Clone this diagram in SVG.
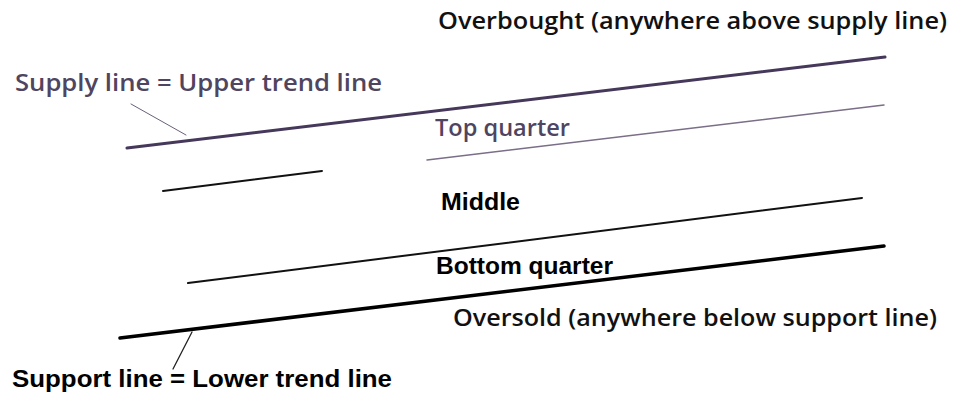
<svg xmlns="http://www.w3.org/2000/svg" width="953" height="394" viewBox="0 0 953 394">
<style>
text{font-family:"Liberation Sans",Arial,sans-serif;font-size:24px}
.p{fill:#4f4560;font-family:"Open Sans","Liberation Sans",sans-serif;font-weight:600}
.b{fill:#000;font-weight:bold}
.n{fill:#111;font-family:"Open Sans","Liberation Sans",sans-serif;font-weight:600;font-size:23px}
line{stroke-linecap:round}
</style>
<rect width="953" height="394" fill="#fff"/>
<g id="connectors">
<line x1="127" y1="148" x2="885" y2="57" stroke="#45385a" stroke-width="3"/>
<line x1="427" y1="160" x2="884" y2="105" stroke="#7a6e88" stroke-width="1.5"/>
<line x1="163" y1="191" x2="322" y2="171" stroke="#111" stroke-width="2"/>
<line x1="188" y1="283" x2="862" y2="198" stroke="#111" stroke-width="2"/>
<line x1="120" y1="338" x2="884" y2="246" stroke="#000" stroke-width="3.5"/>
<line x1="131" y1="104" x2="186" y2="135" stroke="#6a6078" stroke-width="1"/>
<line x1="192" y1="332" x2="173" y2="369" stroke="#222" stroke-width="1.3"/>
</g>
<g id="overbought"><text x="438" y="29" class="n" textLength="509" lengthAdjust="spacingAndGlyphs">Overbought (anywhere above supply line)</text></g>
<g id="supply"><text x="15" y="91" class="p" font-size="24" textLength="367" lengthAdjust="spacingAndGlyphs">Supply line = Upper trend line</text></g>
<g id="top-quarter"><text x="435" y="136" class="p" font-size="24" textLength="135" lengthAdjust="spacingAndGlyphs">Top quarter</text></g>
<g id="middle"><text x="441" y="210" class="b" font-size="24" textLength="79" lengthAdjust="spacingAndGlyphs">Middle</text></g>
<g id="bottom-quarter"><text x="436" y="274" class="b" textLength="177" lengthAdjust="spacingAndGlyphs">Bottom quarter</text></g>
<g id="oversold"><text x="453" y="326" class="n" textLength="484" lengthAdjust="spacingAndGlyphs">Oversold (anywhere below support line)</text></g>
<g id="support"><text x="12" y="387" class="b" textLength="380" lengthAdjust="spacingAndGlyphs">Support line = Lower trend line</text></g>
</svg>
